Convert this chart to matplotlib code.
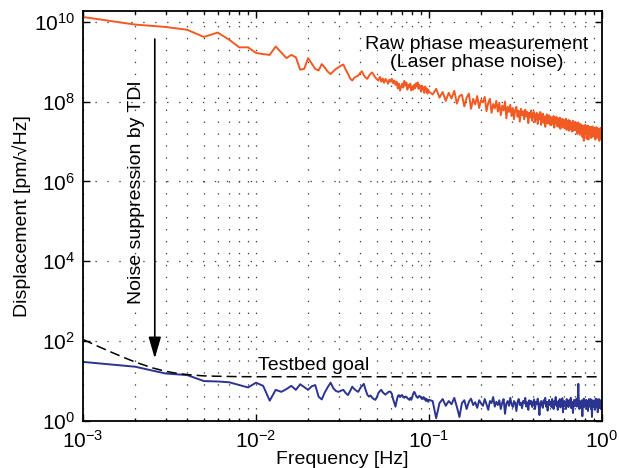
import numpy as np
import matplotlib
matplotlib.use("Agg")
import matplotlib.pyplot as plt
from matplotlib.ticker import LogLocator, NullFormatter, NullLocator

plt.rcParams["font.family"] = ["Liberation Sans", "DejaVu Sans"]
plt.rcParams["mathtext.fontset"] = "custom"
plt.rcParams["mathtext.rm"] = "Liberation Sans"
plt.rcParams["mathtext.it"] = "Liberation Sans:italic"
plt.rcParams["mathtext.bf"] = "Liberation Sans:bold"
plt.rcParams["lines.scale_dashes"] = False

# ===== Data (log10 of displacement) =====
# frequency bins: 1 mHz steps up to 0.1 Hz, 5 mHz steps above
freq_low = np.arange(1, 101) * 1e-3
freq_high = np.arange(105, 1001, 5) * 1e-3

raw_low_log = [
    10.12, 9.93, 9.87, 9.80, 9.62, 9.73, 9.55, 9.36, 9.36, 9.22,
    9.19, 9.17, 9.38, 9.23, 9.09, 9.17, 9.11, 8.80, 8.82, 9.09,
    8.95, 8.82, 8.78, 8.94, 8.85, 8.75, 8.69, 8.76, 8.82, 8.86,
    8.90, 8.93, 8.80, 8.70, 8.58, 8.53, 8.60, 8.63, 8.65, 8.72,
    8.76, 8.66, 8.60, 8.57, 8.65, 8.70, 8.73, 8.66, 8.60, 8.56,
    8.53, 8.62, 8.50, 8.58, 8.47, 8.57, 8.52, 8.45, 8.55, 8.50,
    8.57, 8.46, 8.53, 8.42, 8.50, 8.33, 8.45, 8.28, 8.38, 8.45,
    8.35, 8.52, 8.40, 8.48, 8.30, 8.42, 8.36, 8.45, 8.28, 8.38,
    8.30, 8.42, 8.33, 8.46, 8.38, 8.48, 8.32, 8.42, 8.35, 8.25,
    8.40, 8.30, 8.36, 8.22, 8.38, 8.28, 8.33, 8.20, 8.30, 8.25,
]
raw_high_log = [
    8.18, 8.32, 8.10, 8.24, 8.02, 8.22, 8.08, 8.27, 7.95, 8.14,
    8.17, 7.88, 8.10, 8.20, 7.82, 8.07, 7.93, 8.14, 7.84, 8.04,
    7.98, 8.12, 7.76, 7.97, 8.07, 7.72, 7.94, 7.83, 8.02, 7.75,
    7.97, 7.66, 7.90, 7.78, 8.00, 7.58, 7.87, 7.74, 7.92, 7.64,
    7.84, 7.56, 7.80, 7.87, 7.62, 7.77, 7.50, 7.82, 7.66, 7.76,
    7.56, 7.80, 7.63, 7.74, 7.46, 7.72, 7.60, 7.78, 7.52, 7.70,
    7.74, 7.49, 7.66, 7.72, 7.44, 7.68, 7.56, 7.74, 7.42, 7.64,
    7.70, 7.47, 7.63, 7.37, 7.62, 7.68, 7.45, 7.60, 7.66, 7.42,
    7.62, 7.41, 7.59, 7.48, 7.64, 7.35, 7.57, 7.46, 7.62, 7.39,
    7.58, 7.37, 7.53, 7.60, 7.32, 7.52, 7.42, 7.57, 7.35, 7.50,
    7.54, 7.33, 7.49, 7.57, 7.29, 7.48, 7.38, 7.54, 7.27, 7.47,
    7.52, 7.31, 7.46, 7.25, 7.46, 7.52, 7.27, 7.44, 7.34, 7.49,
    7.28, 7.46, 7.34, 7.19, 7.42, 7.48, 7.25, 7.40, 7.17, 7.44,
    7.42, 7.22, 7.38, 7.12, 7.40, 7.28, 7.02, 7.37, 7.26, 7.42,
    7.20, 7.38, 7.07, 7.34, 7.23, 7.40, 7.05, 7.32, 7.20, 7.36,
    7.18, 7.37, 7.09, 7.32, 7.22, 7.38, 7.12, 7.30, 7.18, 7.35,
    7.16, 7.34, 7.05, 7.30, 7.20, 7.36, 7.09, 7.28, 7.15, 7.32,
    7.12, 7.32, 7.02, 7.28, 7.18, 7.34, 7.07, 7.27, 7.13, 7.22,
]

tdi_low_log = [
    1.48, 1.36, 1.19, 1.15, 1.00, 0.99, 0.97, 0.90, 0.84, 0.96,
    0.88, 0.51, 0.78, 0.73, 0.80, 0.88, 0.78, 0.92, 0.85, 0.78,
    0.87, 0.90, 0.61, 0.54, 0.72, 0.85, 0.96, 0.82, 0.75, 0.73,
    0.76, 0.78, 0.70, 0.65, 0.75, 0.86, 0.80, 0.76, 0.73, 0.82,
    0.88, 0.93, 0.78, 0.66, 0.61, 0.64, 0.58, 0.55, 0.53, 0.60,
    0.70, 0.75, 0.78, 0.72, 0.69, 0.66, 0.69, 0.72, 0.74, 0.73,
    0.68, 0.55, 0.45, 0.36, 0.50, 0.62, 0.65, 0.60, 0.64, 0.65,
    0.60, 0.58, 0.61, 0.61, 0.57, 0.55, 0.53, 0.58, 0.53, 0.60,
    0.68, 0.73, 0.70, 0.64, 0.60, 0.58, 0.61, 0.63, 0.61, 0.58,
    0.55, 0.57, 0.60, 0.54, 0.57, 0.50, 0.55, 0.52, 0.48, 0.53,
]
tdi_high_log = [
    0.50, 0.07, 0.45, 0.55, 0.38, 0.50, 0.42, 0.58, 0.35, 0.10,
    0.45, 0.52, 0.30, 0.48, 0.56, 0.40, 0.47, 0.33, 0.52, 0.44,
    0.38, 0.55, 0.42, 0.28, 0.50, 0.45, 0.60, 0.36, 0.48, 0.40,
    0.52, 0.30, 0.46, 0.55, 0.18, 0.44, 0.50, 0.38, 0.58, 0.42,
    0.35, 0.50, 0.45, 0.25, 0.48, 0.55, 0.40, 0.46, 0.32, 0.50,
    0.44, 0.58, 0.36, 0.47, 0.28, 0.52, 0.42, 0.50, 0.35, 0.45,
    0.54, 0.30, 0.48, 0.42, 0.56, 0.38, 0.15, 0.46, 0.50, 0.40,
    0.33, 0.52, 0.44, 0.58, 0.36, 0.48, 0.26, 0.45, 0.53, 0.40,
    0.47, 0.35, 0.55, 0.42, 0.30, 0.50, 0.44, 0.60, 0.38, 0.46,
    0.28, 0.50, 0.42, 0.55, 0.34, 0.47, 0.40, 0.57, 0.22, 0.45,
    0.50, 0.38, 0.46, 0.30, 0.55, 0.42, 0.48, 0.35, 0.52, 0.40,
    0.45, 0.58, 0.32, 0.48, 0.40, 0.20, 0.46, 0.53, 0.37, 0.50,
    0.42, 0.55, 0.36, 0.48, 0.60, 0.93, 0.44, 0.30, 0.50, 0.40,
    0.47, 0.33, 0.52, 0.12, 0.45, 0.40, 0.56, 0.35, 0.48, 0.42,
    0.38, 0.53, 0.30, 0.46, 0.50, 0.25, 0.44, 0.55, 0.36, 0.48,
    0.41, 0.55, 0.30, 0.47, 0.10, 0.44, 0.52, 0.35, 0.48, 0.40,
    0.50, 0.28, 0.45, 0.56, 0.34, 0.46, 0.40, 0.54, 0.22, 0.47,
    0.42, 0.55, 0.33, 0.48, 0.38, 0.52, 0.30, 0.46, 0.40, 0.36,
]

goal_freq = [1e-3, 1.25e-3, 1.5e-3, 1.75e-3, 2e-3, 2.5e-3, 3e-3, 3.5e-3,
             4e-3, 5e-3, 6e-3, 8e-3, 1e-2, 1.0]
goal_vals = [110, 71, 50.2, 37.9, 30.1, 21.6, 17.6, 15.6,
             14.5, 13.5, 13.2, 12.9, 12.85, 12.8]

y_ticks = [1e0, 1e2, 1e4, 1e6, 1e8, 1e10]

# ===== Build series =====
freq = np.concatenate([freq_low, freq_high])
raw = 10 ** np.array(raw_low_log + raw_high_log)
tdi = 10 ** np.array(tdi_low_log + tdi_high_log)

# ===== Plot =====
fig = plt.figure(figsize=(6.19, 4.68), dpi=100)
ax = fig.add_axes([83 / 619, 47 / 468, 519 / 619, 410 / 468])

ax.loglog(freq, raw, color="#f15a22", lw=1.4)
ax.loglog(freq, tdi, color="#2b3591", lw=1.4)
ax.loglog(goal_freq, goal_vals, color="black", lw=1.1, linestyle=(0, (7.2, 3.6)))

ax.set_xlim(1e-3, 1)
ax.set_ylim(1, 10 ** 10.27)
ax.set_yticks(y_ticks)
ax.yaxis.set_minor_locator(NullLocator())
ax.xaxis.set_major_locator(LogLocator(base=10))
ax.xaxis.set_minor_locator(LogLocator(base=10, subs=np.arange(2, 10)))
ax.xaxis.set_minor_formatter(NullFormatter())

dots = (0, (1.0, 7.6))
ax.grid(True, which="both", axis="x", color="0.25", lw=0.9, linestyle=dots)
ax.grid(True, which="major", axis="y", color="0.25", lw=0.9, linestyle=dots)

for s in ax.spines.values():
    s.set_linewidth(1.3)
ax.tick_params(which="both", direction="in", top=True, right=True, width=1.0,
               labelsize=15)
ax.tick_params(which="major", length=5)
ax.tick_params(which="minor", length=2.5)
ax.tick_params(axis="x", pad=6.5)
ax.tick_params(axis="y", pad=6)

ax.set_xlabel("Frequency [Hz]", fontsize=14)
ax.set_ylabel("Displacement [pm/\u221aHz]", fontsize=14)
ax.xaxis.set_label_coords(0.5, -0.072)
ax.yaxis.set_label_coords(-0.1, 0.5)

# annotations
ax.annotate("", xy=(2.6e-3, 37), xytext=(2.6e-3, 3.7e9),
            arrowprops=dict(arrowstyle="-|>,head_length=1.3,head_width=0.38",
                            color="black", lw=1.2, shrinkA=0, shrinkB=0))
ax.text(2.05e-3, 5.5e5, "Noise suppression by TDI", rotation=90,
        ha="center", va="center", fontsize=14)
ax.text(0.189, 1.6e9, "Raw phase measurement\n(Laser phase noise)",
        ha="center", va="center", multialignment="center", fontsize=14,
        linespacing=1.05)
ax.text(1.03e-2, 18.8, "Testbed goal", ha="left", va="baseline", fontsize=14)

fig.savefig("out.png", dpi=100)
